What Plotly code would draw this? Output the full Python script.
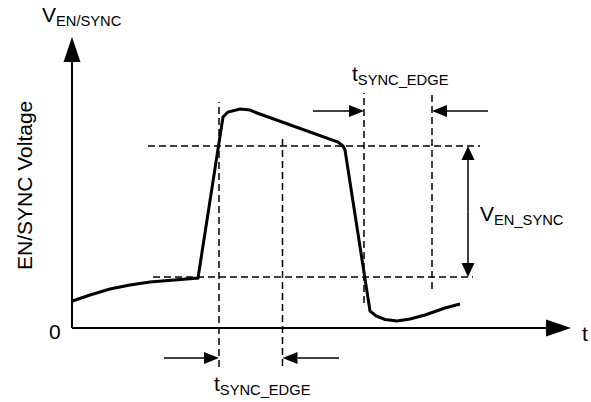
import plotly.graph_objects as go

# ---- data (time units / voltage units, origin at axes corner) ----
wave_t = [0.5, 18, 38, 58, 78, 103, 126, 151, 156, 168, 178, 185, 266, 271, 273,
          298, 304, 313, 325, 338, 353, 373, 388]
wave_v = [27, 33, 39, 43, 46, 48, 50, 211, 216, 219, 218, 215, 186, 182, 178,
          17, 12, 8.5, 7, 9, 13, 20, 24]

v_high = 182          # upper threshold level (dashed)
v_low = 51            # lower threshold level (dashed)
edge_t = [147, 210.5, 292, 360]   # vertical dashed markers
t_max = 499           # end of time axis arrow
v_max = 291           # end of voltage axis arrow

FONT = "Liberation Sans, Arial, sans-serif"
BLACK = "#000000"

fig = go.Figure()

fig.add_trace(go.Scatter(x=wave_t, y=wave_v, mode="lines",
                         line=dict(color=BLACK, width=3), hoverinfo="skip",
                         showlegend=False))

shapes = []


def line(x0, y0, x1, y1, width=1.5, dash="solid"):
    shapes.append(dict(type="line", xref="x", yref="y", x0=x0, y0=y0, x1=x1, y1=y1,
                       line=dict(color=BLACK, width=width, dash=dash)))


def head(tx, ty, dx, dy, length, half):
    bx, by = tx - dx * length, ty - dy * length
    px, py = -dy, dx
    p1 = (bx + px * half, by + py * half)
    p2 = (bx - px * half, by - py * half)
    path = f"M {tx},{ty} L {p1[0]},{p1[1]} L {p2[0]},{p2[1]} Z"
    shapes.append(dict(type="path", xref="x", yref="y", path=path,
                       fillcolor=BLACK, line=dict(width=0)))


def arrow(x0, y0, x1, y1, length, half, width=1.5):
    dx = (x1 > x0) - (x1 < x0)
    dy = (y1 > y0) - (y1 < y0)
    line(x0, y0, x1 - dx * length, y1 - dy * length, width)
    head(x1, y1, dx, dy, length, half)


DASH = "7px,4px"
# dashed guides
line(76, v_high, 408, v_high, 1.5, DASH)
line(81, v_low, 401, v_low, 1.5, DASH)
line(edge_t[0], -39, edge_t[0], 226, 1.5, DASH)
line(edge_t[1], -38, edge_t[1], 193, 1.5, DASH)
line(edge_t[2], 25, edge_t[2], 235, 1.5, DASH)
line(edge_t[3], 39, edge_t[3], 235, 1.5, DASH)

# axes
arrow(0, 0, t_max, 0, 25, 8.5, 2)
arrow(0, 0, 0, v_max, 25, 8.5, 2)

# timing arrows (top)
arrow(241, 217, edge_t[2], 217, 15, 6)
arrow(416, 217, edge_t[3], 217, 15, 6)
# timing arrows (bottom)
arrow(92, -30, edge_t[0], -30, 15, 6)
arrow(267, -30, edge_t[1], -30, 15, 6)
# amplitude double arrow
mid = (v_high + v_low) / 2
arrow(396, mid, 396, v_high, 14, 6.5)
arrow(396, mid, 396, v_low, 14, 6.5)

ann = []


def text(x, y, s, xanchor="left", yanchor="middle", angle=0, size=21):
    ann.append(dict(x=x, y=y, xref="x", yref="y", text=s, showarrow=False,
                    xanchor=xanchor, yanchor=yanchor, textangle=angle,
                    font=dict(family=FONT, size=size, color=BLACK)))


text(-32, 312, "V<sub>EN/SYNC</sub>")
text(-48, 142, "EN/SYNC Voltage", xanchor="center", angle=-90)
text(-17, -3, "0", xanchor="center")
text(508, -5, "t")
text(278, 253, "t<sub>SYNC_EDGE</sub>")
text(140, -57, "t<sub>SYNC_EDGE</sub>")
text(406, 113, "V<sub>EN_SYNC</sub>")

fig.update_layout(
    width=591, height=402, autosize=False,
    margin=dict(l=0, r=0, t=0, b=0),
    paper_bgcolor="white", plot_bgcolor="white",
    xaxis=dict(range=[-72, 519], visible=False, fixedrange=True),
    yaxis=dict(range=[-74, 328], visible=False, fixedrange=True),
    shapes=shapes, annotations=ann, showlegend=False,
)

fig.write_html("out.html", post_script="document.body.style.margin='0';",
               config={"displayModeBar": False})
